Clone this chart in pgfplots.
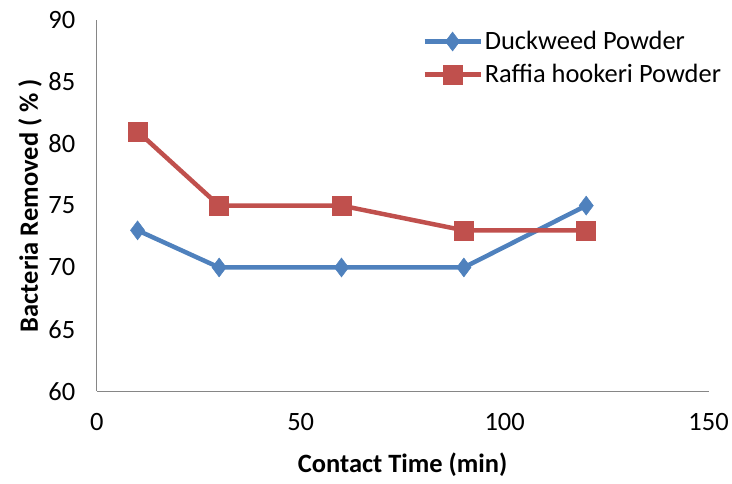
\documentclass[border=0pt]{standalone}
\usepackage{fontspec}
\setmainfont{Carlito}
\usepackage{pgfplots}
\pgfplotsset{compat=1.18}
\definecolor{sblue}{HTML}{4F81BD}
\definecolor{sred}{HTML}{C0504D}
\definecolor{axgray}{HTML}{868686}
\begin{document}
\begin{tikzpicture}
\begin{axis}[
  scale only axis, width=613pt, height=372pt,
  xmin=0, xmax=150, ymin=60, ymax=90,
  xtick={0,50,100,150}, ytick={60,65,...,90},
  axis x line=bottom, axis y line=left,
  axis line style={-, draw=axgray, line width=1.3pt},
  major tick length=0pt,
  /pgf/number format/assume math mode=true,
  tick label style={font=\fontsize{26.5}{31}\selectfont},
  xticklabel style={yshift=-19pt},
  yticklabel style={xshift=-18pt},
  xlabel={\bfseries Contact Time (min)},
  ylabel={\bfseries Bacteria Removed ( \% )},
  label style={font=\fontsize{26.5}{31}\selectfont},
  xlabel style={at={(axis description cs:0.5,-0.199)}, anchor=center},
  ylabel style={at={(axis description cs:-0.109,0.5)}, anchor=center, rotate=0},
  clip=false,
  legend cell align=left,
  legend style={draw=none, fill=none, at={(rel axis cs:0.527,0.98)}, anchor=north west,
    font=\fontsize{26.5}{31}\selectfont, row sep=9pt},
  legend image code/.code={\draw[mark repeat=2,mark phase=2] plot coordinates {(0pt,0pt) (28pt,0pt) (56pt,0pt)};},
]
\addplot[color=sblue, line width=4.5pt, mark=diamond*, mark size=9.5pt, mark options={line width=0.5pt}] coordinates {
  (10,73) (30,70) (60,70) (90,70) (120,75)};
\addlegendentry{Duckweed Powder}
\addplot[color=sred, line width=4.5pt, mark=square*, mark size=9.5pt, mark options={line width=0.5pt}] coordinates {
  (10,81) (30,75) (60,75) (90,73) (120,73)};
\addlegendentry{Raffia hookeri Powder}
\path (rel axis cs:-0.1582,-0.2473) rectangle (rel axis cs:1.0359,1.0538);
\end{axis}
\end{tikzpicture}
\end{document}
